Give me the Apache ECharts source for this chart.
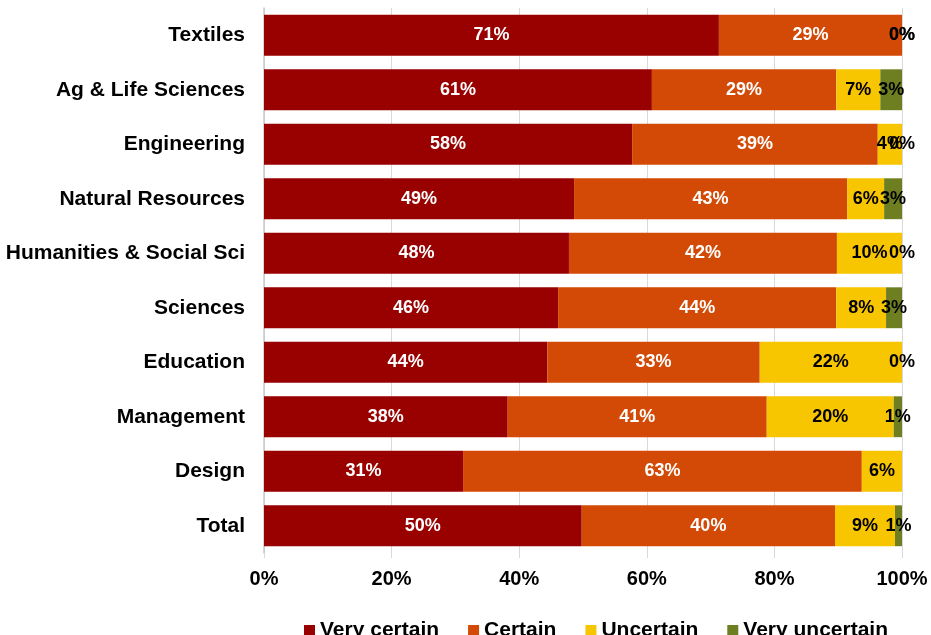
<!DOCTYPE html>
<html>
<head>
<meta charset="utf-8">
<script src="https://cdn.jsdelivr.net/npm/echarts@6/dist/echarts.min.js"></script>
<style>
html,body{margin:0;padding:0;background:#fff;}
#chart{width:931px;height:635px;}
</style>
</head>
<body>
<div id="chart"></div>
<script>
var categories = ["Textiles","Ag & Life Sciences","Engineering","Natural Resources","Humanities & Social Sci","Sciences","Education","Management","Design","Total"];
var veryCertain = [71.3, 60.8, 57.7, 48.6, 47.8, 46.1, 44.4, 38.2, 31.2, 49.8];
var certain     = [28.7, 28.9, 38.5, 42.8, 42.0, 43.6, 33.3, 40.6, 62.5, 39.7];
var uncertain   = [0,    6.9,  3.8,  5.8, 10.2,  7.8, 22.3, 19.9,  6.3,  9.4];
var veryUncertain = [0,  3.4,  0,    2.8,  0,    2.5,  0,    1.3, null, 1.1];
var xTicks = [0, 20, 40, 60, 80, 100];

var FONT = "'Liberation Sans', Arial, sans-serif";
function mk(name, data, color, textColor) {
  return {
    name: name, type: 'bar', stack: 'all', data: data,
    barCategoryGap: '25%',
    itemStyle: { color: color },
    label: {
      show: true, position: 'inside', color: textColor,
      fontFamily: FONT, fontWeight: 'bold', fontSize: 18,
      formatter: function (p) { return p.value == null ? '' : Math.round(p.value) + '%'; }
    },
    emphasis: { disabled: true }
  };
}
var chart = echarts.init(document.getElementById('chart'), null, { renderer: 'canvas' });
chart.setOption({
  animation: false,
  backgroundColor: '#ffffff',
  grid: { left: 264, right: 29, top: 8, bottom: 82 },
  xAxis: {
    type: 'value', min: xTicks[0], max: xTicks[xTicks.length - 1], interval: 20,
    axisLine: { show: false },
    axisTick: { show: true, length: 5, lineStyle: { color: '#d9d9d9' } },
    splitLine: { show: true, lineStyle: { color: '#d9d9d9', width: 1 } },
    axisLabel: { formatter: '{value}%', color: '#000', fontFamily: FONT, fontWeight: 'bold', fontSize: 20, margin: 16 }
  },
  yAxis: {
    type: 'category', data: categories, inverse: true,
    axisLine: { show: true, lineStyle: { color: '#c8c8c8', width: 1.5 } },
    axisTick: { show: false },
    axisLabel: { color: '#000', fontFamily: FONT, fontWeight: 'bold', fontSize: 21, margin: 19 }
  },
  legend: {
    left: 299, top: 615, itemWidth: 11, itemHeight: 11, itemGap: 29,
    icon: 'rect',
    textStyle: { color: '#000', fontFamily: FONT, fontWeight: 'bold', fontSize: 21, padding: [0, 0, 0, 0] },
    data: ['Very certain', 'Certain', 'Uncertain', 'Very uncertain']
  },
  series: [
    mk('Very certain', veryCertain, '#990000', '#ffffff'),
    mk('Certain', certain, '#d24a06', '#ffffff'),
    mk('Uncertain', uncertain, '#f8c600', '#000000'),
    mk('Very uncertain', veryUncertain, '#6e7f22', '#000000')
  ]
});
</script>
</body>
</html>
